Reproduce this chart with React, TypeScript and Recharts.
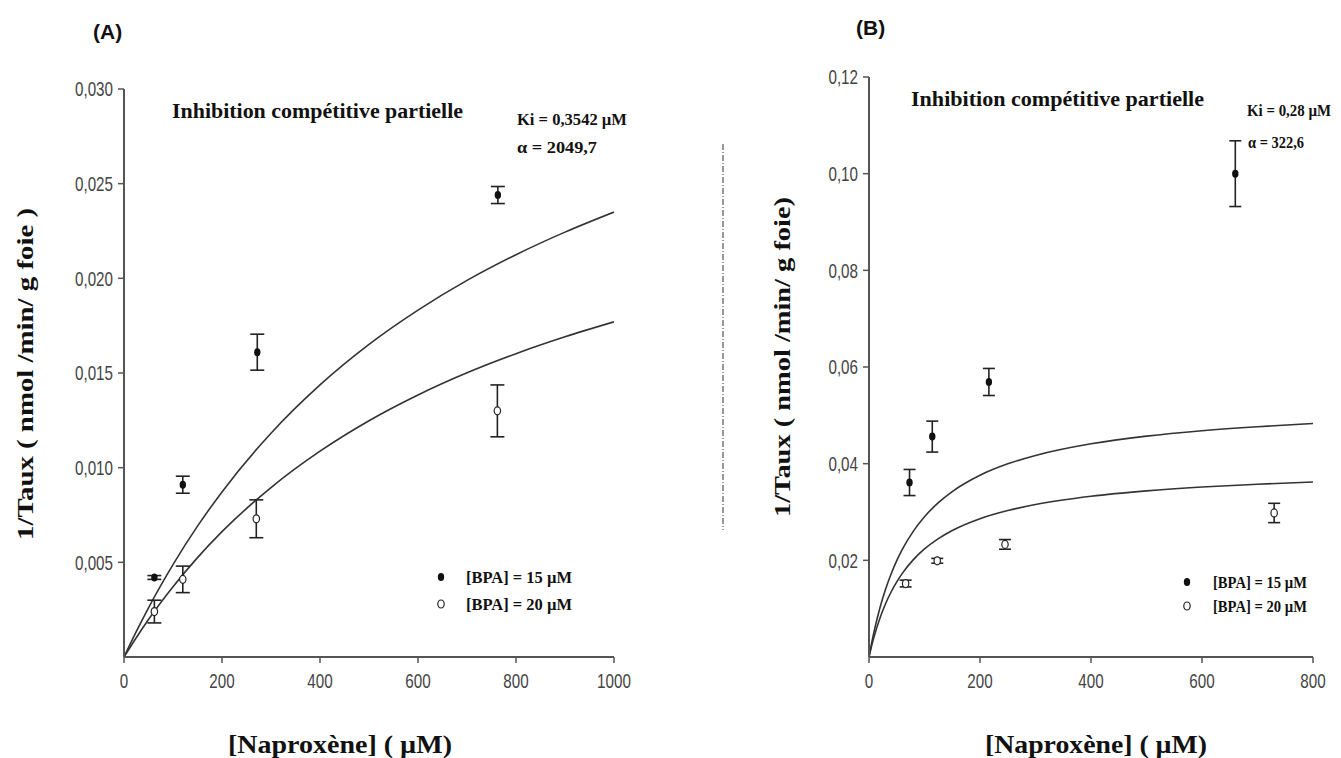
import { ComposedChart, Scatter, Line, XAxis, YAxis, ErrorBar } from "recharts";

// (A) naproxène, points mesurés
const concA15 = [62, 120, 272, 763];
const tauxA15 = [0.0042, 0.0091, 0.0161, 0.0244];
const errA15 = [0.0001, 0.00045, 0.00095, 0.00045];
const concA20 = [62, 120, 270, 762];
const tauxA20 = [0.0024, 0.0041, 0.0073, 0.013];
const errA20 = [0.0006, 0.0007, 0.001, 0.00137];

// (A) courbes ajustées
const fitXA = [0, 25, 50, 100, 150, 200, 300, 400, 500, 600, 700, 800, 900, 1000];
const fitA15 = [0, 0.00134, 0.0026, 0.00488, 0.00691, 0.00872, 0.01182, 0.01437, 0.01651, 0.01832, 0.01989, 0.02125, 0.02244, 0.0235];
const fitA20 = [0, 0.00102, 0.00198, 0.00371, 0.00525, 0.00662, 0.00895, 0.01087, 0.01248, 0.01384, 0.01501, 0.01602, 0.01691, 0.0177];

// (B)
const concB15 = [73, 114, 216, 660];
const tauxB15 = [0.0361, 0.0456, 0.0569, 0.1];
const errB15 = [0.0027, 0.0032, 0.0028, 0.0068];
const concB20 = [66, 123, 245, 730];
const tauxB20 = [0.0152, 0.0199, 0.0233, 0.0298];
const errB20 = [0.0007, 0.0005, 0.001, 0.002];

const fitXB = [0, 5, 10, 20, 30, 40, 50, 60, 80, 100, 125, 150, 200, 250, 300, 400, 500, 600, 700, 800];
const fitB15 = [0, 0.003, 0.00569, 0.01028, 0.01406, 0.01723, 0.01993, 0.02226, 0.02605, 0.02902, 0.03194, 0.03423, 0.0376, 0.03996, 0.0417, 0.04411, 0.0457, 0.04682, 0.04765, 0.0483];
const fitB20 = [0, 0.0024, 0.00453, 0.00813, 0.01106, 0.0135, 0.01555, 0.01731, 0.02015, 0.02235, 0.02449, 0.02617, 0.02861, 0.0303, 0.03155, 0.03326, 0.03438, 0.03517, 0.03575, 0.0362];

const xTicksA = [0, 200, 400, 600, 800, 1000];
const yTicksA = [0.005, 0.01, 0.015, 0.02, 0.025, 0.03];
const xTicksB = [0, 200, 400, 600, 800];
const yTicksB = [0.02, 0.04, 0.06, 0.08, 0.1, 0.12];

const pts = (xs: number[], ys: number[], es: number[]) => xs.map((x, i) => ({ x, y: ys[i], err: es[i] }));
const curve = (xs: number[], ys: number[]) => xs.map((x, i) => ({ x, y: ys[i] }));

const sans = "'Liberation Sans', Arial, sans-serif";
const serif = "'Liberation Serif', 'DejaVu Serif', serif";
const axisCol = "#555";

// narrow, tall tick labels like the original export
const NarrowTick = ({ x, y, payload, axis, fmt }: any) => {
  const label = fmt ? fmt(payload.value) : String(payload.value);
  return (
    <g transform={`translate(${x},${y})`}>
      <text
        transform="scale(0.76,1)"
        textAnchor={axis === "y" ? "end" : "middle"}
        dy={axis === "y" ? "0.36em" : "0.85em"}
        fontFamily={sans}
        fontSize={20}
        fill="#444"
      >
        {label}
      </text>
    </g>
  );
};

const FilledDot = (p: any) => <ellipse cx={p.cx} cy={p.cy} rx={3.2} ry={4} fill="#111" />;
const OpenDot = (p: any) => <ellipse cx={p.cx} cy={p.cy} rx={3.2} ry={4} fill="#fff" stroke="#222" strokeWidth={1.2} />;

type PanelProps = {
  width: number;
  margin: { top: number; right: number; bottom: number; left: number };
  xMax: number;
  xTicks: number[];
  yMax: number;
  yTicks: number[];
  digits: number;
  p15: { x: number; y: number; err: number }[];
  p20: { x: number; y: number; err: number }[];
  c15: { x: number; y: number }[];
  c20: { x: number; y: number }[];
  cap: number;
};

const Panel = ({ width, margin, xMax, xTicks, yMax, yTicks, digits, p15, p20, c15, c20, cap }: PanelProps) => {
  const fmtY = (v: number) => v.toFixed(digits).replace(".", ",");
  return (
    <ComposedChart width={width} height={758} margin={margin}>
      <XAxis
        type="number"
        dataKey="x"
        domain={[0, xMax]}
        ticks={xTicks}
        height={40}
        tick={(p: any) => <NarrowTick {...p} axis="x" />}
        tickSize={6}
        tickMargin={8}
        axisLine={{ stroke: axisCol, strokeWidth: 2 }}
        tickLine={{ stroke: axisCol, strokeWidth: 1.5 }}
        allowDataOverflow
      />
      <YAxis
        type="number"
        dataKey="y"
        domain={[0, yMax]}
        ticks={yTicks}
        width={60}
        tick={(p: any) => <NarrowTick {...p} axis="y" fmt={fmtY} />}
        tickSize={6}
        tickMargin={5}
        axisLine={{ stroke: axisCol, strokeWidth: 2 }}
        tickLine={{ stroke: axisCol, strokeWidth: 1.5 }}
        allowDataOverflow
      />
      <Line data={c15} dataKey="y" type="monotone" stroke="#333" strokeWidth={1.6} dot={false} isAnimationActive={false} />
      <Line data={c20} dataKey="y" type="monotone" stroke="#333" strokeWidth={1.6} dot={false} isAnimationActive={false} />
      <Scatter data={p15} dataKey="y" shape={FilledDot} isAnimationActive={false}>
        <ErrorBar dataKey="err" direction="y" width={cap} stroke="#222" strokeWidth={1.6} isAnimationActive={false} />
      </Scatter>
      <Scatter data={p20} dataKey="y" shape={OpenDot} isAnimationActive={false}>
        <ErrorBar dataKey="err" direction="y" width={cap} stroke="#222" strokeWidth={1.6} isAnimationActive={false} />
      </Scatter>
    </ComposedChart>
  );
};

export default function App() {
  return (
    <div style={{ position: "absolute", left: 0, top: 0, width: 1341, height: 758, background: "#fff" }}>
      <div style={{ position: "absolute", left: 0, top: 0 }}>
        <Panel
          width={700}
          margin={{ top: 89, right: 86, bottom: 61, left: 64 }}
          xMax={1000}
          xTicks={xTicksA}
          yMax={0.03}
          yTicks={yTicksA}
          digits={3}
          p15={pts(concA15, tauxA15, errA15)}
          p20={pts(concA20, tauxA20, errA20)}
          c15={curve(fitXA, fitA15)}
          c20={curve(fitXA, fitA20)}
          cap={7}
        />
      </div>
      <div style={{ position: "absolute", left: 700, top: 0 }}>
        <Panel
          width={641}
          margin={{ top: 77, right: 28, bottom: 61, left: 109 }}
          xMax={800}
          xTicks={xTicksB}
          yMax={0.12}
          yTicks={yTicksB}
          digits={2}
          p15={pts(concB15, tauxB15, errB15)}
          p20={pts(concB20, tauxB20, errB20)}
          c15={curve(fitXB, fitB15)}
          c20={curve(fitXB, fitB20)}
          cap={6}
        />
      </div>
      <svg width={1341} height={758} style={{ position: "absolute", left: 0, top: 0, pointerEvents: "none" }}>
        <g fontFamily={sans} fontWeight="bold" fontSize={21} fill="#111">
          <text x={93} y={39}>(A)</text>
          <text x={856} y={35}>(B)</text>
        </g>
        <g fontFamily={serif} fontWeight="bold" fill="#111">
          <text x={172} y={118} fontSize={21} textLength={291} lengthAdjust="spacingAndGlyphs">Inhibition compétitive partielle</text>
          <text x={911} y={106} fontSize={21} textLength={293} lengthAdjust="spacingAndGlyphs">Inhibition compétitive partielle</text>
          <text x={517} y={125} fontSize={17} textLength={110} lengthAdjust="spacingAndGlyphs">Ki = 0,3542 µM</text>
          <text x={517} y={153} fontSize={17} textLength={80} lengthAdjust="spacingAndGlyphs">α = 2049,7</text>
          <text x={1247} y={116} fontSize={16} textLength={84} lengthAdjust="spacingAndGlyphs">Ki = 0,28 µM</text>
          <text x={1248} y={148} fontSize={17} textLength={56} lengthAdjust="spacingAndGlyphs">α = 322,6</text>

          <text x={466} y={583} fontSize={17} textLength={106} lengthAdjust="spacingAndGlyphs">[BPA] = 15 µM</text>
          <text x={466} y={610} fontSize={17} textLength={106} lengthAdjust="spacingAndGlyphs">[BPA] = 20 µM</text>
          <text x={1213} y={588} fontSize={17} textLength={94} lengthAdjust="spacingAndGlyphs">[BPA] = 15 µM</text>
          <text x={1213} y={612} fontSize={17} textLength={94} lengthAdjust="spacingAndGlyphs">[BPA] = 20 µM</text>

          <text x={340} y={753} fontSize={26} textAnchor="middle" textLength={224} lengthAdjust="spacingAndGlyphs">[Naproxène] ( µM)</text>
          <text x={1096} y={753} fontSize={26} textAnchor="middle" textLength={222} lengthAdjust="spacingAndGlyphs">[Naproxène] ( µM)</text>
          <text transform="translate(33,374) rotate(-90)" fontSize={24} textAnchor="middle" textLength={332} lengthAdjust="spacingAndGlyphs">1/Taux ( nmol /min/ g foie )</text>
          <text transform="translate(790,357) rotate(-90)" fontSize={24} textAnchor="middle" textLength={320} lengthAdjust="spacingAndGlyphs">1/Taux ( nmol /min/ g foie)</text>
        </g>
        <ellipse cx={441} cy={577} rx={3.2} ry={4} fill="#111" />
        <ellipse cx={441} cy={604} rx={3.2} ry={4} fill="#fff" stroke="#222" strokeWidth={1.2} />
        <ellipse cx={1187} cy={582} rx={3.2} ry={4} fill="#111" />
        <ellipse cx={1187} cy={606} rx={3.2} ry={4} fill="#fff" stroke="#222" strokeWidth={1.2} />
        <line x1={723} y1={144} x2={723} y2={530} stroke="#333" strokeWidth={1} strokeDasharray="6 2 1 2" />
      </svg>
    </div>
  );
}
